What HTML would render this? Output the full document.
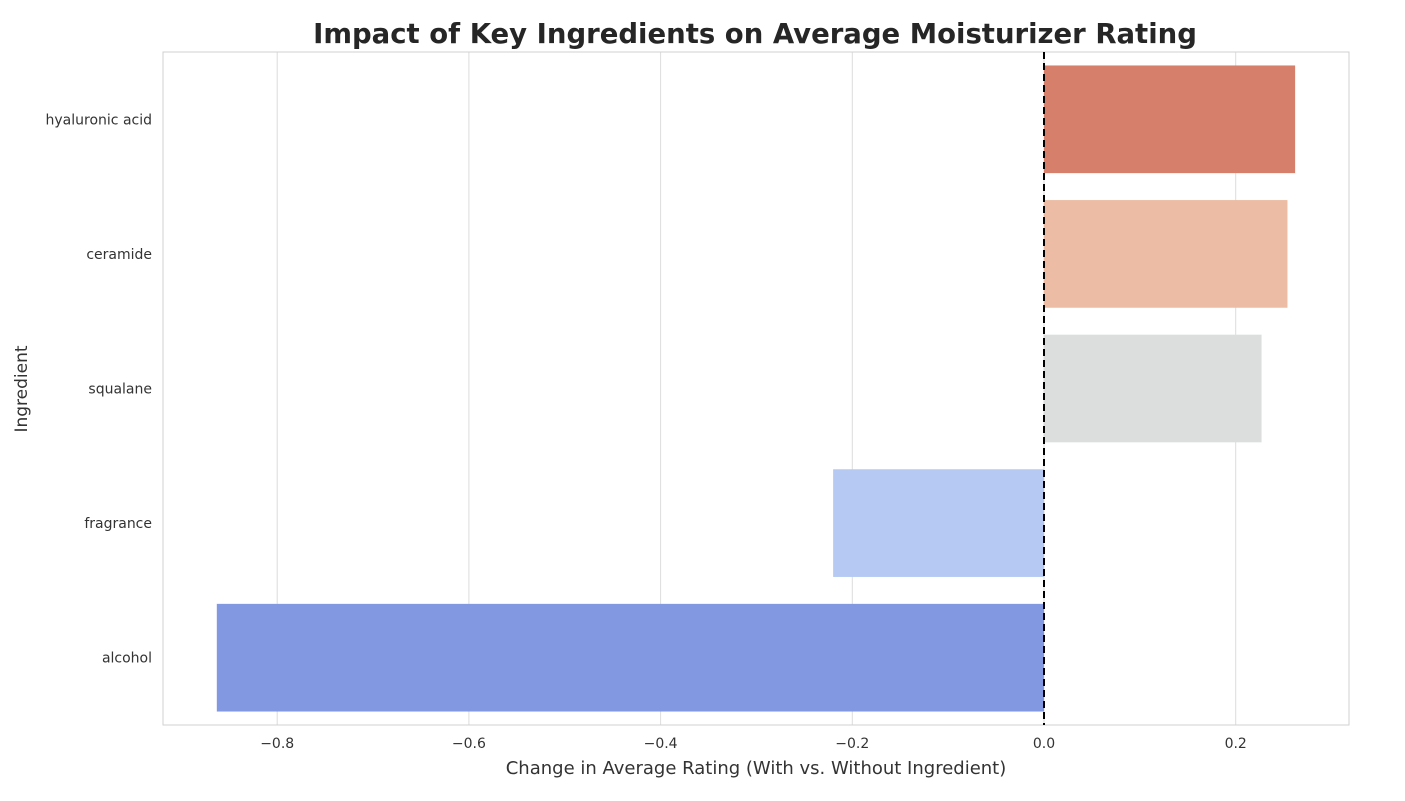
<!DOCTYPE html>
<html><head><meta charset="utf-8"><style>
body{margin:0;background:#fff;font-family:"Liberation Sans","DejaVu Sans",sans-serif;}
svg text{font-family:"DejaVu Sans","Liberation Sans",sans-serif;fill:#333;}
</style></head><body>
<svg id="chart" width="1405" height="796">
<text x="755" y="43" text-anchor="middle" font-size="27.5" font-weight="bold" style="fill:#262626">Impact of Key Ingredients on Average Moisturizer Rating</text>
<g id="grid"></g><g id="bars"></g><g id="axes"></g>
<text x="756" y="774" text-anchor="middle" font-size="18">Change in Average Rating (With vs. Without Ingredient)</text>
<text transform="translate(27,389) rotate(-90)" text-anchor="middle" font-size="17">Ingredient</text>
</svg>
<script>
const categories=["hyaluronic acid","ceramide","squalane","fragrance","alcohol"];
const values=[0.262,0.254,0.227,-0.220,-0.863];
const colors=["#d6806c","#ecbca5","#dcdddd","#b5c9f2","#8299e2"];
const ticks=[-0.8,-0.6,-0.4,-0.2,0.0,0.2];
const tickLabels=["\u22120.8","\u22120.6","\u22120.4","\u22120.2","0.0","0.2"];
const L=163,R=1349,T=52,B=725;
const x=v=>1044+v*958.5;
const band=(B-T)/categories.length;
const y=i=>T+band*(i+0.5);
const ns="http://www.w3.org/2000/svg";
function mk(tag,attrs,parent,text){const e=document.createElementNS(ns,tag);for(const k in attrs)e.setAttribute(k,attrs[k]);if(text!==undefined)e.textContent=text;document.getElementById(parent).appendChild(e);return e;}
ticks.forEach((t,i)=>{
 const g=mk('line',{x1:x(t),x2:x(t),y1:T,y2:B,stroke:'#dcdcdc','stroke-width':1},'grid');
 
 
 const tl=mk('text',{x:x(t),y:B+23,'text-anchor':'middle','font-size':14},'axes',tickLabels[i]);
 
 
});
values.forEach((v,i)=>{
 const bh=band*0.8;
 const r=mk('rect',{x:Math.min(x(0),x(v)),y:y(i)-bh/2,width:Math.abs(x(v)-x(0)),height:bh,fill:colors[i]},'bars');
 
 
 const l=mk('text',{x:L-11,y:y(i)+5,'text-anchor':'end','font-size':14},'axes',categories[i]);
 
 
});
const fr=mk('rect',{x:L,y:T,width:R-L,height:B-T,fill:'none',stroke:'#d0d0d0','stroke-width':1},'axes');


const zl=mk('line',{x1:x(0),x2:x(0),y1:T,y2:B,stroke:'#000','stroke-width':2,'stroke-dasharray':'7,4'},'axes');


</script>
</body></html>
